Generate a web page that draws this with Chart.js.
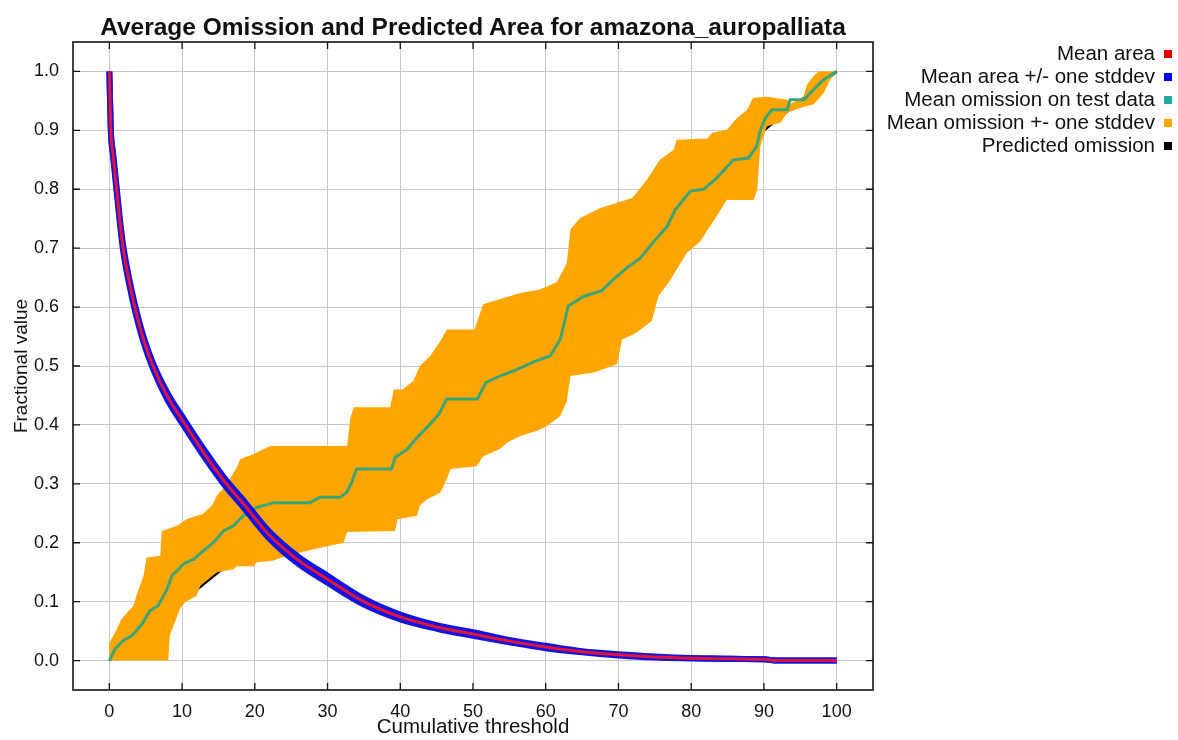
<!DOCTYPE html>
<html>
<head>
<meta charset="utf-8">
<script src="https://cdn.jsdelivr.net/npm/chart.js@4.4.1/dist/chart.umd.min.js"></script>
<style>
  body { margin: 0; background: #fff; font-family: "Liberation Sans", Arial, sans-serif; }
  #wrap { position: relative; width: 1178px; height: 740px; }
  #title { position: absolute; left: 73px; width: 800px; top: 14px; text-align: center;
           font-weight: bold; font-size: 24.5px; line-height: 25px; color: #111; }
  #legend { position: absolute; right: 6px; top: 41px; font-size: 20.5px; color: #111; }
  #legend div { height: 23px; line-height: 23px; text-align: right; white-space: nowrap; }
  #legend span { display: inline-block; width: 8px; height: 8px; margin-left: 9px; vertical-align: 2px; }
</style>
</head>
<body>
<div id="wrap">
  <canvas id="chart" width="1178" height="740"></canvas>
  <div id="title">Average Omission and Predicted Area for amazona_auropalliata</div>
  <div id="legend"></div>
</div>
<script>
const xTicks = [0, 10, 20, 30, 40, 50, 60, 70, 80, 90, 100];
const yTicks = [0, 0.1, 0.2, 0.3, 0.4, 0.5, 0.6, 0.7, 0.8, 0.9, 1.0];

// mean predicted area
const areaX = [0, 0.2, 0.5, 1.0, 1.5, 1.9, 2.7, 3.5, 4.7, 6.0, 8.0, 10.2, 12.8, 15.7, 18.7, 20, 22, 26, 30, 35, 40, 45, 50, 55, 60, 65, 70, 75, 80, 85, 90, 92, 100];
const areaMean = [1.0, 0.9, 0.86, 0.8, 0.74, 0.7, 0.645, 0.6, 0.545, 0.5, 0.448, 0.405, 0.356, 0.306, 0.262, 0.242, 0.213, 0.17, 0.138, 0.1, 0.074, 0.057, 0.045, 0.033, 0.023, 0.015, 0.0097, 0.006, 0.004, 0.003, 0.002, 0.0, 0.0];
const areaSd = [0, 0.002, 0.003, 0.004, 0.004, 0.005, 0.005, 0.005, 0.005, 0.005, 0.006, 0.006, 0.006, 0.006, 0.006, 0.006, 0.006, 0.006, 0.006, 0.005, 0.004, 0.003, 0.003, 0.002, 0.002, 0.001, 0.001, 0.001, 0.0005, 0.0005, 0, 0, 0];

// mean omission on test data (teal step line)
const omission = [[0, 0], [0.8, 0.02], [1.9, 0.034], [3.1, 0.042], [4.5, 0.062], [5.6, 0.085], [6.7, 0.093], [7.9, 0.12], [8.6, 0.144], [10.2, 0.164], [11.6, 0.172], [12.9, 0.186], [14.3, 0.2], [15.7, 0.22], [17.1, 0.229], [18.4, 0.246], [20.3, 0.26], [22.6, 0.268], [27.6, 0.268], [28.9, 0.277], [31.7, 0.277], [32.6, 0.285], [33.3, 0.302], [34.0, 0.325], [38.8, 0.325], [39.3, 0.345], [40.9, 0.358], [42.2, 0.377], [44.0, 0.4], [45.3, 0.418], [46.4, 0.444], [50.6, 0.444], [51.8, 0.472], [53.7, 0.483], [56, 0.494], [58.5, 0.508], [60.6, 0.517], [62, 0.545], [63.1, 0.602], [65.2, 0.618], [67.7, 0.628], [69.3, 0.647], [71.2, 0.667], [73, 0.683], [74.7, 0.709], [76.7, 0.737], [77.8, 0.765], [79.9, 0.797], [81.7, 0.8], [83.5, 0.819], [85.8, 0.85], [87.9, 0.853], [89, 0.873], [89.5, 0.9], [90.2, 0.921], [91.1, 0.935], [93.2, 0.935], [93.6, 0.952], [95.5, 0.952], [96.8, 0.969], [98.2, 0.986], [99.6, 0.997], [100, 1.0]];

// omission +- one stddev, upper and lower edges of the orange band
const bandUpper = [[0, 0.03], [0.8, 0.048], [1.7, 0.071], [3.3, 0.093], [3.8, 0.113], [4.7, 0.144], [5.1, 0.175], [7.0, 0.178], [7.2, 0.22], [9.3, 0.229], [10.6, 0.24], [12.9, 0.249], [14.1, 0.263], [14.8, 0.28], [16.1, 0.298], [17.6, 0.33], [18.0, 0.342], [19.8, 0.35], [22.1, 0.364], [32.7, 0.364], [33.1, 0.41], [33.6, 0.43], [38.6, 0.43], [39.1, 0.46], [40.3, 0.46], [41.8, 0.475], [42.7, 0.5], [44.1, 0.517], [45.5, 0.542], [46.4, 0.562], [50.2, 0.562], [51.4, 0.605], [56.5, 0.624], [59.2, 0.63], [61.5, 0.642], [62.0, 0.653], [62.9, 0.675], [63.4, 0.732], [64.7, 0.751], [67.5, 0.768], [71.9, 0.785], [73.0, 0.802], [73.9, 0.816], [75.7, 0.85], [77.6, 0.867], [78.0, 0.884], [82.2, 0.886], [82.9, 0.896], [84.9, 0.901], [86.3, 0.921], [87.7, 0.935], [88.5, 0.955], [90.4, 0.957], [93.2, 0.952], [93.6, 0.945], [95.4, 0.955], [95.9, 0.977], [96.8, 0.992], [97.5, 1.0], [100, 1.0]];
const bandLower = [[0, 0], [8.1, 0], [8.3, 0.042], [9.0, 0.065], [9.7, 0.088], [10.4, 0.099], [12.0, 0.11], [12.5, 0.127], [14.8, 0.15], [17.1, 0.155], [17.5, 0.16], [19.8, 0.16], [20.3, 0.167], [22.6, 0.17], [23.0, 0.172], [24.4, 0.178], [28.1, 0.189], [32.2, 0.2], [32.7, 0.218], [39.3, 0.22], [39.6, 0.24], [42.3, 0.246], [42.7, 0.263], [43.7, 0.274], [45.5, 0.285], [46.4, 0.308], [46.9, 0.325], [50.5, 0.33], [51.4, 0.347], [53.7, 0.359], [54.7, 0.37], [56.5, 0.381], [58.8, 0.39], [60.2, 0.398], [62.0, 0.415], [62.9, 0.44], [63.4, 0.483], [66.6, 0.489], [69.8, 0.503], [70.5, 0.545], [72.3, 0.555], [74.6, 0.577], [75.5, 0.619], [77.1, 0.645], [78.0, 0.664], [79.4, 0.692], [81.3, 0.712], [82.2, 0.73], [83.5, 0.754], [84.5, 0.774], [84.9, 0.782], [88.6, 0.782], [89.1, 0.8], [89.5, 0.873], [90.4, 0.907], [92.3, 0.913], [93.2, 0.93], [95.5, 0.94], [96.8, 0.944], [98.2, 0.963], [99.1, 0.986], [100, 1.0]];

// predicted omission
const predicted = [[0, 0], [100, 1]];

const legendItems = [
    ["Mean area", "rgb(230, 0, 0)"],
    ["Mean area +/- one stddev", "rgb(0, 0, 230)"],
    ["Mean omission on test data", "rgb(32, 165, 160)"],
    ["Mean omission +- one stddev", "rgb(255, 165, 0)"],
    ["Predicted omission", "#000"]
];

const toPts = arr => arr.map(p => ({ x: p[0], y: p[1] }));

const frame = {
    id: 'frame',
    afterDraw(chart) {
        const { ctx, chartArea: a, scales: { x, y } } = chart;
        ctx.save();
        ctx.strokeStyle = '#111';
        ctx.lineWidth = 1.6;
        ctx.strokeRect(a.left, a.top, a.right - a.left, a.bottom - a.top);
        ctx.lineWidth = 1.3;
        ctx.beginPath();
        xTicks.forEach(v => {
            const px = x.getPixelForValue(v);
            ctx.moveTo(px, a.bottom); ctx.lineTo(px, a.bottom - 7);
            ctx.moveTo(px, a.top); ctx.lineTo(px, a.top + 7);
        });
        yTicks.forEach(v => {
            const py = y.getPixelForValue(v);
            ctx.moveTo(a.left, py); ctx.lineTo(a.left + 7, py);
            ctx.moveTo(a.right, py); ctx.lineTo(a.right - 7, py);
        });
        ctx.stroke();
        ctx.restore();
    }
};

document.addEventListener("DOMContentLoaded", function () {
    const line = (data, color, width) => ({
        data: data, borderColor: color, backgroundColor: color, borderWidth: width,
        showLine: true, pointRadius: 0, tension: 0, fill: false
    });

    const areaPts = areaX.map((x, i) => ({ x: x, y: areaMean[i] }));
    const areaHi = areaX.map((x, i) => ({ x: x, y: areaMean[i] + areaSd[i] }));
    const areaLo = areaX.map((x, i) => ({ x: x, y: areaMean[i] - areaSd[i] }));
    const bandShape = toPts(bandUpper).concat(toPts(bandLower).reverse());

    const smooth = ds => Object.assign(ds, { cubicInterpolationMode: 'monotone' });

    const band = line(bandShape, "rgb(255, 165, 0)", 0);
    band.fill = 'shape';

    Chart.defaults.font.family = '"Liberation Sans", Arial, sans-serif';
    Chart.defaults.color = '#111';

    new Chart(document.getElementById("chart").getContext('2d'), {
        type: 'scatter',
        data: {
            datasets: [
                smooth(line(areaPts, "rgb(225, 20, 60)", 3)),
                smooth(line(areaHi, "rgb(20, 20, 225)", 6)),
                smooth(line(areaLo, "rgb(20, 20, 225)", 6)),
                line(toPts(omission), "rgb(60, 165, 120)", 3),
                band,
                line(toPts(predicted), "#000", 2.5)
            ]
        },
        options: {
            responsive: false,
            animation: false,
            layout: { padding: { top: 42, right: 305, left: 0, bottom: 0 } },
            plugins: { legend: { display: false }, tooltip: { enabled: false } },
            scales: {
                x: {
                    type: 'linear', min: -5, max: 105,
                    afterFit: s => { s.height = 50; },
                    afterBuildTicks: s => { s.ticks = xTicks.map(v => ({ value: v })); },
                    grid: { color: '#c8c8c8', lineWidth: 1, drawTicks: false },
                    border: { display: false },
                    ticks: { font: { size: 18 }, padding: 11, maxRotation: 0, callback: v => v },
                    title: { display: true, text: 'Cumulative threshold', font: { size: 20.5 }, padding: 0 }
                },
                y: {
                    type: 'linear', min: -0.05, max: 1.05,
                    afterFit: s => { s.width = 73; },
                    afterBuildTicks: s => { s.ticks = yTicks.map(v => ({ value: v })); },
                    grid: { color: '#c8c8c8', lineWidth: 1, drawTicks: false },
                    border: { display: false },
                    ticks: { font: { size: 18 }, padding: 14, callback: v => v.toFixed(1) },
                    title: { display: true, text: 'Fractional value', font: { size: 19 }, padding: { top: 10, bottom: 0 } }
                }
            }
        },
        plugins: [frame]
    });

    const legend = document.getElementById("legend");
    legendItems.forEach(([label, color]) => {
        const row = document.createElement("div");
        row.innerHTML = label + '<span style="background:' + color + '"></span>';
        legend.appendChild(row);
    });
});
</script>
</body>
</html>
